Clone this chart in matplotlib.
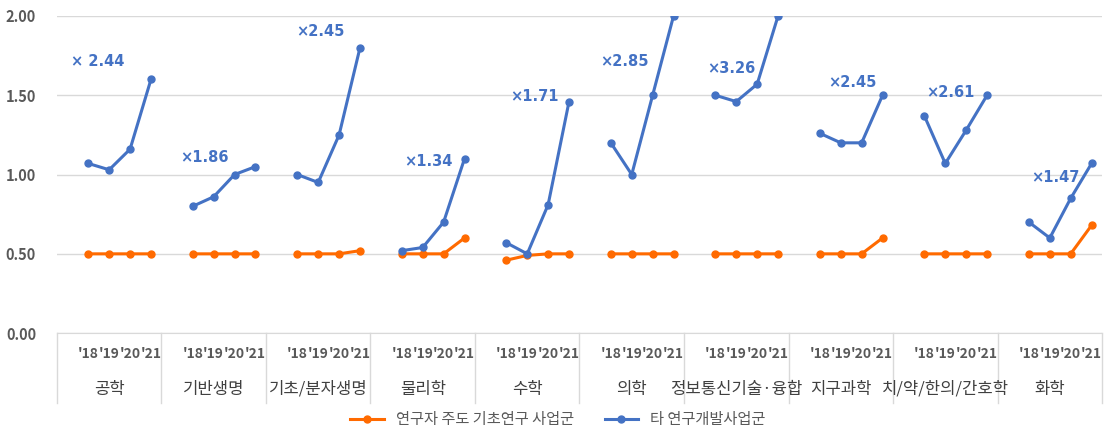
import numpy as np
import matplotlib
matplotlib.use("Agg")
import matplotlib.pyplot as plt
import matplotlib.transforms as mtransforms

plt.rcParams['font.family'] = ['Noto Sans CJK KR', 'DejaVu Sans']

fields = ['공학', '기반생명', '기초/분자생명', '물리학', '수학', '의학',
          '정보통신기술·융합', '지구과학', '치/약/한의/간호학', '화학']
years = ["'18", "'19", "'20", "'21"]

# 연구자 주도 기초연구 사업군
basic = [[0.50, 0.50, 0.50, 0.50],
         [0.50, 0.50, 0.50, 0.50],
         [0.50, 0.50, 0.50, 0.52],
         [0.50, 0.50, 0.50, 0.60],
         [0.46, 0.49, 0.50, 0.50],
         [0.50, 0.50, 0.50, 0.50],
         [0.50, 0.50, 0.50, 0.50],
         [0.50, 0.50, 0.50, 0.60],
         [0.50, 0.50, 0.50, 0.50],
         [0.50, 0.50, 0.50, 0.68]]
# 타 연구개발사업군
other = [[1.07, 1.03, 1.16, 1.60],
         [0.80, 0.86, 1.00, 1.05],
         [1.00, 0.95, 1.25, 1.80],
         [0.52, 0.54, 0.70, 1.10],
         [0.57, 0.50, 0.81, 1.46],
         [1.20, 1.00, 1.50, 2.00],
         [1.50, 1.46, 1.57, 2.00],
         [1.26, 1.20, 1.20, 1.50],
         [1.37, 1.07, 1.28, 1.50],
         [0.70, 0.60, 0.85, 1.07]]
ratios = ['× 2.44', '×1.86', '×2.45', '×1.34', '×1.71',
          '×2.85', '×3.26', '×2.45', '×2.61', '×1.47']
# label anchor (slot x, value y)
ratio_pos = [(0.17, 1.71), (5.39, 1.11), (10.94, 1.90), (16.1, 1.08), (21.17, 1.49),
             (25.48, 1.71), (30.6, 1.67), (36.39, 1.58), (41.08, 1.52), (46.1, 0.98)]

ORANGE = '#FF6A00'
BLUE = '#4472C4'
GRID = '#D9D9D9'
TXT = '#595959'

n = len(fields)
slot = 5  # one blank slot + 4 years per group
xs, yb, yo = [], [], []
for g in range(n):
    xs.append(g * slot)
    yb.append(np.nan)
    yo.append(np.nan)
    for k in range(4):
        xs.append(g * slot + 1 + k)
        yb.append(basic[g][k])
        yo.append(other[g][k])

fig = plt.figure(figsize=(11.16, 4.43), dpi=100)
ax = fig.add_axes([0.051, 0.248, 0.9365, 0.716])

l1, = ax.plot(xs, yb, '-o', color=ORANGE, lw=2.2, ms=5, label='연구자 주도 기초연구 사업군', zorder=3)
l2, = ax.plot(xs, yo, '-o', color=BLUE, lw=2.2, ms=5, label='타 연구개발사업군', zorder=3)

for t, (px, py) in zip(ratios, ratio_pos):
    ax.text(px, py, t, color=BLUE, fontsize=10.5, fontweight='bold', ha='left', va='center',
            family=['DejaVu Sans'])

ax.set_xlim(-0.5, n * slot - 0.5)
ax.set_ylim(0, 2.0)
ax.set_yticks([0, 0.5, 1.0, 1.5, 2.0])
ax.set_yticklabels(['%.2f' % v for v in [0, 0.5, 1.0, 1.5, 2.0]],
                   fontsize=10.5, fontweight='bold', color=TXT)
ax.tick_params(axis='y', length=0, pad=15)
ax.set_xticks([])
ax.grid(axis='y', color=GRID, lw=1)
ax.set_axisbelow(True)
for s in ['top', 'right', 'left']:
    ax.spines[s].set_visible(False)
ax.spines['bottom'].set_color(GRID)

trans = mtransforms.blended_transform_factory(ax.transData, ax.transAxes)
for g in range(n + 1):
    xb = g * slot - 0.5
    ax.plot([xb, xb], [0, -0.221], color=GRID, lw=1, transform=trans, clip_on=False)
for g in range(n):
    for k, yr in enumerate(years):
        ax.text(g * slot + 1 + k, -0.067, yr, transform=trans, ha='center', va='center',
                fontsize=10, fontweight='bold', color=TXT)
    ax.text(g * slot + 2, -0.177, fields[g], transform=trans, ha='center', va='center',
            fontsize=12, color='#404040')

fig.legend(handles=[l1, l2], loc='center', bbox_to_anchor=(0.5, 0.052), ncol=2,
           frameon=False, fontsize=11, labelcolor=TXT, handlelength=2.2, columnspacing=2)

fig.savefig('out.png', dpi=100)
